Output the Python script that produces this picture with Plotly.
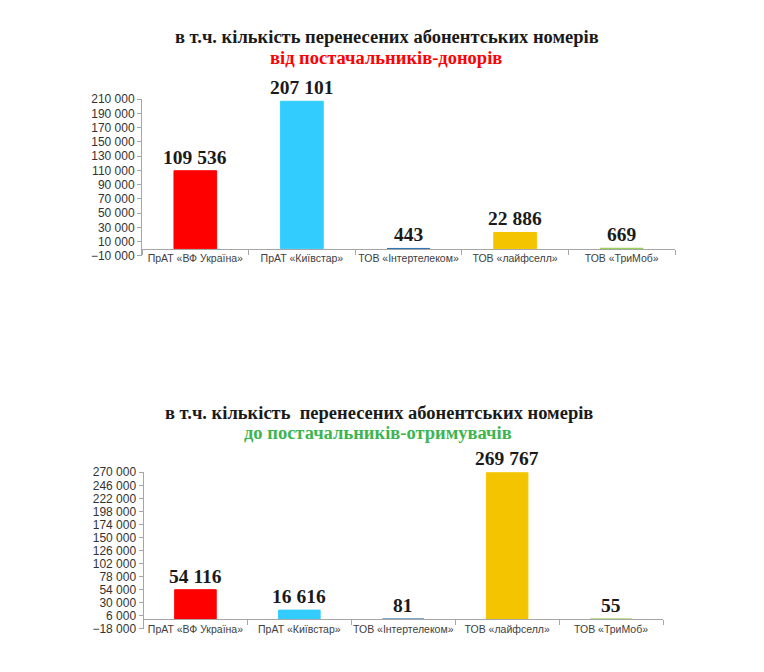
import plotly.graph_objects as go

# Дані
operators = ["ПрАТ «ВФ Україна»", "ПрАТ «Київстар»", "ТОВ «Інтертелеком»",
             "ТОВ «лайфселл»", "ТОВ «ТриМоб»"]
donors = [109536, 207101, 443, 22886, 669]
recipients = [54116, 16616, 81, 269767, 55]
bar_colors = ["#FF0000", "#33CCFF", "#2E75B6", "#F5C400", "#92D050"]

W, H = 764, 672
OFF = 8  # відступ body на сторінці


def fx(px):
    return (px - OFF) / W


def fy(py):
    return 1 - (py - OFF) / H


# Межі областей графіків у пікселях еталону
top_box = dict(x0=142, x1=675, y0=94, y1=254, rng=(-10000, 210000), dtick=20000)
bot_box = dict(x0=143.5, x1=663, y0=475, y1=635, rng=(-18000, 270000), dtick=24000)


def dom(box):
    xd = [fx(box["x0"]), fx(box["x1"])]
    yd = [fy(box["y1"]), fy(box["y0"])]
    lo, hi = box["rng"]
    zero = yd[0] + (0 - lo) / (hi - lo) * (yd[1] - yd[0])
    return xd, yd, zero


fig = go.Figure()

fig.add_trace(go.Bar(x=operators, y=donors, marker_color=bar_colors,
                     marker_line_color=bar_colors, marker_line_width=1,
                     width=0.4, xaxis="x", yaxis="y", hoverinfo="x+y"))
fig.add_trace(go.Bar(x=operators, y=recipients, marker_color=bar_colors,
                     marker_line_color=bar_colors, marker_line_width=1,
                     width=0.4, xaxis="x2", yaxis="y2", hoverinfo="x+y"))

tick_font = dict(family="Liberation Sans, Arial", size=12, color="#333333")
cat_font = dict(family="Liberation Sans, Arial", size=10.5, color="#404040")

for i, box in enumerate([top_box, bot_box]):
    xd, yd, zero = dom(box)
    sfx = "" if i == 0 else "2"
    fig.update_layout(**{
        "xaxis" + sfx: dict(domain=xd, anchor="free", position=zero,
                            showline=True, linecolor="#A6A6A6", linewidth=1,
                            ticks="outside", tickson="boundaries", ticklen=5,
                            tickcolor="#A6A6A6", tickfont=cat_font, tickangle=0,
                            showgrid=False, fixedrange=True),
        "yaxis" + sfx: dict(domain=yd, anchor="x" + sfx, range=list(box["rng"]),
                            tick0=box["rng"][0], dtick=box["dtick"], tickformat=",d",
                            showline=True, linecolor="#A6A6A6", linewidth=1,
                            ticks="outside", ticklen=4, tickcolor="#A6A6A6",
                            tickfont=tick_font, showgrid=False, zeroline=False),
    })

# Підписи значень над стовпчиками
label_font = dict(family="Liberation Serif, Times New Roman", size=19.5, color="#1A1A1A")
for xr, yr, vals in [("x", "y", donors), ("x2", "y2", recipients)]:
    for name, v in zip(operators, vals):
        fig.add_annotation(x=name, y=v, xref=xr, yref=yr,
                           text="<b>%s</b>" % f"{v:,}".replace(",", " "),
                           showarrow=False, yanchor="bottom", yshift=1, font=label_font)

# Заголовки
title_font = dict(family="Liberation Serif, Times New Roman", size=18.5, color="#1A1A1A")
titles = [
    ("в т.ч. кількість перенесених абонентських номерів", 387, 30, "#1A1A1A"),
    ("від постачальників-донорів", 386, 52, "#FF0000"),
    ("в т.ч. кількість  перенесених абонентських номерів", 379, 414, "#1A1A1A"),
    ("до постачальників-отримувачів", 378, 435, "#3CB550"),
]
for txt, px_x, px_y, col in titles:
    fig.add_annotation(x=fx(px_x), y=fy(px_y), xref="paper", yref="paper",
                       text="<b>%s</b>" % txt.replace("  ", "&nbsp; "), showarrow=False,
                       xanchor="center", yanchor="middle",
                       font=dict(title_font, color=col))

fig.update_layout(
    width=W, height=H,
    margin=dict(l=0, r=0, t=0, b=0),
    paper_bgcolor="white", plot_bgcolor="white",
    separators=", ",
    showlegend=False,
    bargap=0.6,
)

fig.write_html("out.html")
